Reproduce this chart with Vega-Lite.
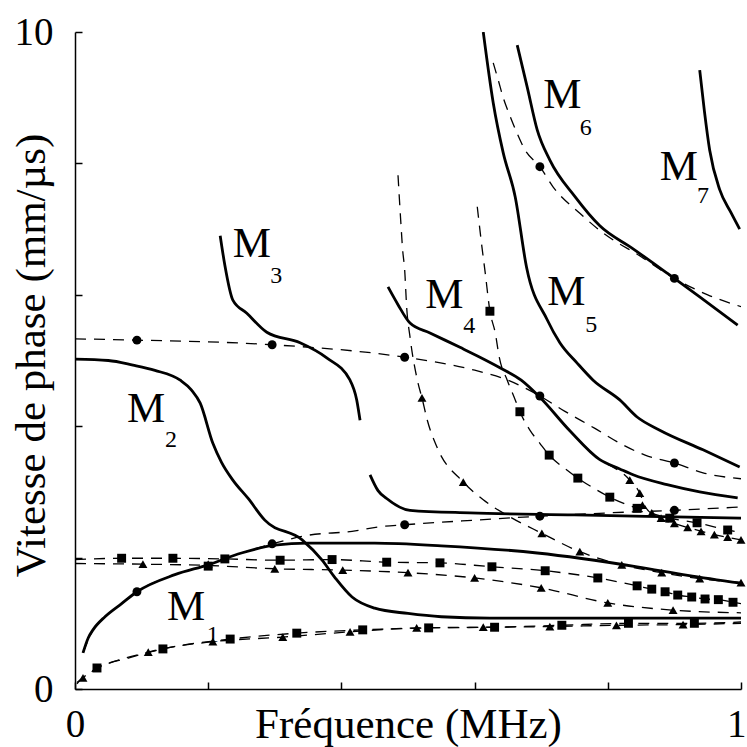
{
  "$schema": "https://vega.github.io/schema/vega-lite/v6.json",
  "width": 666,
  "height": 657,
  "autosize": {"type": "none"},
  "padding": {"left": 75, "top": 32, "right": 6, "bottom": 58},
  "background": "white",
  "config": {
    "view": {"stroke": null},
    "axis": {
      "grid": false,
      "domainColor": "black",
      "domainWidth": 1.5,
      "tickColor": "black",
      "tickWidth": 1.5,
      "labelColor": "black",
      "titleColor": "black",
      "labelFont": "Liberation Serif",
      "titleFont": "Liberation Serif",
      "labelFontSize": 39,
      "titleFontSize": 43,
      "titleFontWeight": "normal",
      "labelFlush": false,
      "labelOverlap": false
    }
  },
  "datasets": {
    "solid": [
      {"s":"M1","x":0.012,"y":0.55},{"s":"M1","x":0.02,"y":0.78},{"s":"M1","x":0.027,"y":0.9},{"s":"M1","x":0.045,"y":1.1},{"s":"M1","x":0.07,"y":1.3},{"s":"M1","x":0.093,"y":1.48},{"s":"M1","x":0.15,"y":1.74},{"s":"M1","x":0.2,"y":1.89},{"s":"M1","x":0.25,"y":2.07},{"s":"M1","x":0.3,"y":2.19},{"s":"M1","x":0.35,"y":2.22},{"s":"M1","x":0.45,"y":2.22},{"s":"M1","x":0.55,"y":2.18},{"s":"M1","x":0.694,"y":2.07},{"s":"M1","x":0.844,"y":1.86},{"s":"M1","x":0.92,"y":1.73},{"s":"M1","x":1.0,"y":1.61},
      {"s":"M2","x":0.0,"y":5.02},{"s":"M2","x":0.05,"y":5.0},{"s":"M2","x":0.087,"y":4.93},{"s":"M2","x":0.12,"y":4.85},{"s":"M2","x":0.158,"y":4.7},{"s":"M2","x":0.175,"y":4.55},{"s":"M2","x":0.188,"y":4.35},{"s":"M2","x":0.207,"y":3.74},{"s":"M2","x":0.22,"y":3.45},{"s":"M2","x":0.237,"y":3.18},{"s":"M2","x":0.26,"y":2.9},{"s":"M2","x":0.285,"y":2.57},{"s":"M2","x":0.341,"y":2.27},{"s":"M2","x":0.371,"y":1.96},{"s":"M2","x":0.39,"y":1.7},{"s":"M2","x":0.416,"y":1.4},{"s":"M2","x":0.45,"y":1.23},{"s":"M2","x":0.5,"y":1.15},{"s":"M2","x":0.55,"y":1.1},{"s":"M2","x":0.623,"y":1.08},{"s":"M2","x":1.0,"y":1.08},
      {"s":"M3","x":0.218,"y":6.9},{"s":"M3","x":0.225,"y":6.45},{"s":"M3","x":0.237,"y":5.92},{"s":"M3","x":0.258,"y":5.72},{"s":"M3","x":0.288,"y":5.43},{"s":"M3","x":0.338,"y":5.27},{"s":"M3","x":0.378,"y":5.04},{"s":"M3","x":0.413,"y":4.7},{"s":"M3","x":0.423,"y":4.4},{"s":"M3","x":0.428,"y":4.09},
      {"s":"M3b","x":0.443,"y":3.26},{"s":"M3b","x":0.455,"y":3.02},{"s":"M3b","x":0.468,"y":2.9},{"s":"M3b","x":0.503,"y":2.72},{"s":"M3b","x":0.593,"y":2.68},{"s":"M3b","x":0.75,"y":2.65},{"s":"M3b","x":0.9,"y":2.62},{"s":"M3b","x":1.0,"y":2.6},
      {"s":"M4","x":0.47,"y":6.12},{"s":"M4","x":0.485,"y":5.85},{"s":"M4","x":0.503,"y":5.57},{"s":"M4","x":0.533,"y":5.42},{"s":"M4","x":0.578,"y":5.2},{"s":"M4","x":0.608,"y":5.05},{"s":"M4","x":0.638,"y":4.89},{"s":"M4","x":0.67,"y":4.7},{"s":"M4","x":0.698,"y":4.44},{"s":"M4","x":0.743,"y":3.93},{"s":"M4","x":0.788,"y":3.49},{"s":"M4","x":0.818,"y":3.35},{"s":"M4","x":0.838,"y":3.26},{"s":"M4","x":0.889,"y":3.11},{"s":"M4","x":0.938,"y":3.0},{"s":"M4","x":0.995,"y":2.91},
      {"s":"M5","x":0.613,"y":10.0},{"s":"M5","x":0.628,"y":8.92},{"s":"M5","x":0.643,"y":8.16},{"s":"M5","x":0.661,"y":7.49},{"s":"M5","x":0.678,"y":6.42},{"s":"M5","x":0.709,"y":5.62},{"s":"M5","x":0.728,"y":5.27},{"s":"M5","x":0.754,"y":4.96},{"s":"M5","x":0.778,"y":4.7},{"s":"M5","x":0.818,"y":4.4},{"s":"M5","x":0.844,"y":4.14},{"s":"M5","x":0.878,"y":3.94},{"s":"M5","x":0.943,"y":3.64},{"s":"M5","x":0.998,"y":3.38},
      {"s":"M6","x":0.664,"y":9.8},{"s":"M6","x":0.679,"y":9.16},{"s":"M6","x":0.694,"y":8.51},{"s":"M6","x":0.713,"y":8.05},{"s":"M6","x":0.751,"y":7.49},{"s":"M6","x":0.788,"y":7.05},{"s":"M6","x":0.838,"y":6.7},{"s":"M6","x":0.889,"y":6.33},{"s":"M6","x":0.938,"y":5.97},{"s":"M6","x":0.995,"y":5.54},
      {"s":"M7","x":0.938,"y":9.42},{"s":"M7","x":0.945,"y":8.8},{"s":"M7","x":0.953,"y":8.2},{"s":"M7","x":0.968,"y":7.6},{"s":"M7","x":0.985,"y":7.25},{"s":"M7","x":0.998,"y":7.0}
    ],
    "dashed": [
      {"s":"C1","x":0.0,"y":5.33},{"s":"C1","x":0.093,"y":5.31},{"s":"C1","x":0.296,"y":5.24},{"s":"C1","x":0.495,"y":5.05},{"s":"C1","x":0.593,"y":4.87},{"s":"C1","x":0.65,"y":4.7},{"s":"C1","x":0.698,"y":4.46},{"s":"C1","x":0.735,"y":4.23},{"s":"C1","x":0.78,"y":3.97},{"s":"C1","x":0.82,"y":3.73},{"s":"C1","x":0.856,"y":3.56},{"s":"C1","x":0.9,"y":3.44},{"s":"C1","x":0.943,"y":3.29},{"s":"C1","x":1.0,"y":3.2},
      {"s":"C2","x":0.012,"y":0.55},{"s":"C2","x":0.027,"y":0.9},{"s":"C2","x":0.045,"y":1.1},{"s":"C2","x":0.07,"y":1.3},{"s":"C2","x":0.093,"y":1.48},{"s":"C2","x":0.15,"y":1.74},{"s":"C2","x":0.2,"y":1.89},{"s":"C2","x":0.25,"y":2.07},{"s":"C2","x":0.296,"y":2.21},{"s":"C2","x":0.35,"y":2.34},{"s":"C2","x":0.416,"y":2.4},{"s":"C2","x":0.458,"y":2.47},{"s":"C2","x":0.495,"y":2.5},{"s":"C2","x":0.6,"y":2.57},{"s":"C2","x":0.698,"y":2.63},{"s":"C2","x":0.8,"y":2.68},{"s":"C2","x":0.9,"y":2.72},{"s":"C2","x":1.0,"y":2.77},
      {"s":"C3","x":0.628,"y":9.53},{"s":"C3","x":0.636,"y":9.25},{"s":"C3","x":0.643,"y":9.0},{"s":"C3","x":0.652,"y":8.75},{"s":"C3","x":0.662,"y":8.5},{"s":"C3","x":0.676,"y":8.2},{"s":"C3","x":0.698,"y":7.95},{"s":"C3","x":0.718,"y":7.64},{"s":"C3","x":0.758,"y":7.24},{"s":"C3","x":0.793,"y":6.94},{"s":"C3","x":0.85,"y":6.58},{"s":"C3","x":0.9,"y":6.25},{"s":"C3","x":0.95,"y":6.0},{"s":"C3","x":1.0,"y":5.82},
      {"s":"TA","x":0.485,"y":7.82},{"s":"TA","x":0.489,"y":7.14},{"s":"TA","x":0.492,"y":6.68},{"s":"TA","x":0.495,"y":6.38},{"s":"TA","x":0.498,"y":5.81},{"s":"TA","x":0.503,"y":5.36},{"s":"TA","x":0.515,"y":4.66},{"s":"TA","x":0.521,"y":4.43},{"s":"TA","x":0.529,"y":4.09},{"s":"TA","x":0.544,"y":3.67},{"s":"TA","x":0.583,"y":3.15},{"s":"TA","x":0.613,"y":2.88},{"s":"TA","x":0.653,"y":2.62},{"s":"TA","x":0.701,"y":2.37},{"s":"TA","x":0.758,"y":2.09},{"s":"TA","x":0.821,"y":1.89},{"s":"TA","x":0.881,"y":1.77},{"s":"TA","x":0.938,"y":1.68},{"s":"TA","x":1.0,"y":1.62},
      {"s":"SB","x":0.604,"y":7.34},{"s":"SB","x":0.611,"y":6.73},{"s":"SB","x":0.616,"y":6.33},{"s":"SB","x":0.623,"y":5.75},{"s":"SB","x":0.631,"y":5.42},{"s":"SB","x":0.637,"y":5.05},{"s":"SB","x":0.649,"y":4.7},{"s":"SB","x":0.661,"y":4.4},{"s":"SB","x":0.668,"y":4.22},{"s":"SB","x":0.683,"y":3.94},{"s":"SB","x":0.698,"y":3.74},{"s":"SB","x":0.712,"y":3.56},{"s":"SB","x":0.739,"y":3.33},{"s":"SB","x":0.755,"y":3.21},{"s":"SB","x":0.78,"y":3.05},{"s":"SB","x":0.803,"y":2.92},{"s":"SB","x":0.844,"y":2.75},{"s":"SB","x":0.893,"y":2.6},{"s":"SB","x":0.934,"y":2.53},{"s":"SB","x":0.98,"y":2.42},{"s":"SB","x":1.0,"y":2.38},
      {"s":"TC","x":0.8,"y":3.42},{"s":"TC","x":0.833,"y":3.18},{"s":"TC","x":0.848,"y":2.98},{"s":"TC","x":0.856,"y":2.78},{"s":"TC","x":0.87,"y":2.64},{"s":"TC","x":0.9,"y":2.52},{"s":"TC","x":0.93,"y":2.43},{"s":"TC","x":0.96,"y":2.35},{"s":"TC","x":1.0,"y":2.27},
      {"s":"SH","x":0.0,"y":1.97},{"s":"SH","x":0.07,"y":1.99},{"s":"SH","x":0.147,"y":1.99},{"s":"SH","x":0.225,"y":1.98},{"s":"SH","x":0.308,"y":1.96},{"s":"SH","x":0.386,"y":1.97},{"s":"SH","x":0.468,"y":1.93},{"s":"SH","x":0.548,"y":1.92},{"s":"SH","x":0.626,"y":1.86},{"s":"SH","x":0.706,"y":1.8},{"s":"SH","x":0.785,"y":1.69},{"s":"SH","x":0.844,"y":1.57},{"s":"SH","x":0.866,"y":1.52},{"s":"SH","x":0.886,"y":1.48},{"s":"SH","x":0.905,"y":1.43},{"s":"SH","x":0.926,"y":1.4},{"s":"SH","x":0.946,"y":1.37},{"s":"SH","x":0.966,"y":1.36},{"s":"SH","x":0.988,"y":1.32},{"s":"SH","x":1.0,"y":1.3},
      {"s":"TH","x":0.0,"y":1.91},{"s":"TH","x":0.102,"y":1.9},{"s":"TH","x":0.2,"y":1.88},{"s":"TH","x":0.3,"y":1.83},{"s":"TH","x":0.402,"y":1.81},{"s":"TH","x":0.5,"y":1.77},{"s":"TH","x":0.6,"y":1.69},{"s":"TH","x":0.7,"y":1.54},{"s":"TH","x":0.8,"y":1.31},{"s":"TH","x":0.898,"y":1.2},{"s":"TH","x":1.0,"y":1.16},
      {"s":"SL","x":0.003,"y":0.1},{"s":"SL","x":0.033,"y":0.32},{"s":"SL","x":0.08,"y":0.47},{"s":"SL","x":0.132,"y":0.61},{"s":"SL","x":0.233,"y":0.76},{"s":"SL","x":0.333,"y":0.85},{"s":"SL","x":0.432,"y":0.9},{"s":"SL","x":0.531,"y":0.93},{"s":"SL","x":0.63,"y":0.94},{"s":"SL","x":0.731,"y":0.97},{"s":"SL","x":0.831,"y":1.0},{"s":"SL","x":0.93,"y":1.0},{"s":"SL","x":1.0,"y":1.02},
      {"s":"TL","x":0.003,"y":0.08},{"s":"TL","x":0.012,"y":0.17},{"s":"TL","x":0.11,"y":0.56},{"s":"TL","x":0.207,"y":0.72},{"s":"TL","x":0.312,"y":0.79},{"s":"TL","x":0.413,"y":0.87},{"s":"TL","x":0.513,"y":0.93},{"s":"TL","x":0.613,"y":0.94},{"s":"TL","x":0.713,"y":0.95},{"s":"TL","x":0.813,"y":0.97},{"s":"TL","x":0.913,"y":0.98},{"s":"TL","x":1.0,"y":1.0}
    ],
    "markers": [
      {"m":"circle","x":0.093,"y":5.31},{"m":"circle","x":0.296,"y":5.24},{"m":"circle","x":0.495,"y":5.05},{"m":"circle","x":0.698,"y":4.46},{"m":"circle","x":0.9,"y":3.44},
      {"m":"circle","x":0.093,"y":1.48},{"m":"circle","x":0.296,"y":2.21},{"m":"circle","x":0.495,"y":2.5},{"m":"circle","x":0.698,"y":2.63},{"m":"circle","x":0.9,"y":2.72},
      {"m":"circle","x":0.698,"y":7.95},{"m":"circle","x":0.9,"y":6.25},
      {"m":"square","x":0.623,"y":5.75},{"m":"square","x":0.668,"y":4.22},{"m":"square","x":0.712,"y":3.56},{"m":"square","x":0.755,"y":3.21},{"m":"square","x":0.803,"y":2.92},{"m":"square","x":0.844,"y":2.75},{"m":"square","x":0.893,"y":2.6},{"m":"square","x":0.934,"y":2.53},{"m":"square","x":0.98,"y":2.42},
      {"m":"square","x":0.07,"y":1.99},{"m":"square","x":0.147,"y":1.99},{"m":"square","x":0.2,"y":1.87},{"m":"square","x":0.225,"y":1.98},{"m":"square","x":0.308,"y":1.96},{"m":"square","x":0.386,"y":1.97},{"m":"square","x":0.468,"y":1.93},{"m":"square","x":0.548,"y":1.92},{"m":"square","x":0.626,"y":1.86},{"m":"square","x":0.706,"y":1.8},{"m":"square","x":0.785,"y":1.69},{"m":"square","x":0.844,"y":1.57},{"m":"square","x":0.866,"y":1.52},{"m":"square","x":0.886,"y":1.48},{"m":"square","x":0.905,"y":1.43},{"m":"square","x":0.926,"y":1.4},{"m":"square","x":0.946,"y":1.37},{"m":"square","x":0.966,"y":1.36},{"m":"square","x":0.988,"y":1.32},
      {"m":"square","x":0.033,"y":0.32},{"m":"square","x":0.132,"y":0.61},{"m":"square","x":0.233,"y":0.76},{"m":"square","x":0.333,"y":0.85},{"m":"square","x":0.432,"y":0.9},{"m":"square","x":0.531,"y":0.93},{"m":"square","x":0.63,"y":0.94},{"m":"square","x":0.731,"y":0.97},{"m":"square","x":0.831,"y":1.0},{"m":"square","x":0.93,"y":1.0},
      {"m":"triangle","x":0.521,"y":4.43},{"m":"triangle","x":0.583,"y":3.15},{"m":"triangle","x":0.701,"y":2.37},{"m":"triangle","x":0.758,"y":2.09},{"m":"triangle","x":0.821,"y":1.89},{"m":"triangle","x":0.881,"y":1.77},{"m":"triangle","x":0.938,"y":1.68},{"m":"triangle","x":1.0,"y":1.62},
      {"m":"triangle","x":0.833,"y":3.18},{"m":"triangle","x":0.848,"y":2.98},{"m":"triangle","x":0.852,"y":2.8},{"m":"triangle","x":0.866,"y":2.68},{"m":"triangle","x":0.88,"y":2.6},{"m":"triangle","x":0.9,"y":2.52},{"m":"triangle","x":0.92,"y":2.46},{"m":"triangle","x":0.94,"y":2.4},{"m":"triangle","x":0.96,"y":2.35},{"m":"triangle","x":0.98,"y":2.31},{"m":"triangle","x":1.0,"y":2.27},
      {"m":"triangle","x":0.102,"y":1.9},{"m":"triangle","x":0.2,"y":1.9},{"m":"triangle","x":0.3,"y":1.83},{"m":"triangle","x":0.402,"y":1.81},{"m":"triangle","x":0.5,"y":1.77},{"m":"triangle","x":0.6,"y":1.69},{"m":"triangle","x":0.7,"y":1.54},{"m":"triangle","x":0.8,"y":1.31},{"m":"triangle","x":0.898,"y":1.2},
      {"m":"triangle","x":0.012,"y":0.17},{"m":"triangle","x":0.11,"y":0.56},{"m":"triangle","x":0.207,"y":0.72},{"m":"triangle","x":0.312,"y":0.79},{"m":"triangle","x":0.413,"y":0.87},{"m":"triangle","x":0.513,"y":0.93},{"m":"triangle","x":0.613,"y":0.94},{"m":"triangle","x":0.713,"y":0.95},{"m":"triangle","x":0.813,"y":0.97},{"m":"triangle","x":0.913,"y":0.98}
    ],
    "mlabels": [
      {"t":"M","x":0.138,"y":1.05},{"t":"M","x":0.078,"y":4.06},{"t":"M","x":0.237,"y":6.58},{"t":"M","x":0.526,"y":5.8},{"t":"M","x":0.709,"y":5.84},{"t":"M","x":0.703,"y":8.84},{"t":"M","x":0.878,"y":7.75}
    ],
    "subs": [
      {"t":"1","x":0.198,"y":0.715},{"t":"2","x":0.135,"y":3.68},{"t":"3","x":0.293,"y":6.18},{"t":"4","x":0.583,"y":5.42},{"t":"5","x":0.766,"y":5.43},{"t":"6","x":0.758,"y":8.43},{"t":"7","x":0.934,"y":7.4}
    ]
  },
  "encoding": {
    "x": {
      "field": "x", "type": "quantitative",
      "scale": {"domain": [0, 1], "nice": false, "zero": false},
      "axis": {
        "title": "Fréquence (MHz)",
        "values": [0, 0.2, 0.4, 0.6, 0.8, 1],
        "labelExpr": "datum.value == 0 ? '0' : (datum.value == 1 ? '1' : '')",
        "labelAlign": {"condition": {"test": "datum.value == 1", "value": "right"}, "value": "center"},
        "labelOffset": {"condition": {"test": "datum.value == 1", "value": 5}, "value": 0},
        "tickSize": -7,
        "labelPadding": 23,
        "titleBaseline": "alphabetic",
        "titleY": 48,
        "titleX": 333
      }
    },
    "y": {
      "field": "y", "type": "quantitative",
      "scale": {"domain": [0, 10], "nice": false, "zero": false},
      "axis": {
        "title": "Vitesse de phase (mm/µs)",
        "values": [0, 2, 4, 6, 8, 10],
        "labelExpr": "datum.value == 0 ? '0' : (datum.value == 10 ? '10' : '')",
        "tickSize": -7,
        "labelPadding": 29,
        "titleAngle": -90,
        "titleBaseline": "alphabetic",
        "titleAlign": "center",
        "titleX": -31,
        "titleY": 323
      }
    }
  },
  "layer": [
    {
      "data": {"name": "dashed"},
      "mark": {"type": "line", "color": "black", "strokeWidth": 1.3, "strokeDash": [11, 8], "interpolate": "monotone", "clip": true},
      "encoding": {"detail": {"field": "s", "type": "nominal"}}
    },
    {
      "data": {"name": "solid"},
      "mark": {"type": "line", "color": "black", "strokeWidth": 2.8, "interpolate": "monotone", "clip": true},
      "encoding": {"detail": {"field": "s", "type": "nominal"}}
    },
    {
      "data": {"name": "markers"},
      "mark": {"type": "point", "filled": true, "color": "black", "opacity": 1, "size": 80},
      "encoding": {
        "shape": {
          "field": "m", "type": "nominal",
          "scale": {"domain": ["circle", "square", "triangle"], "range": ["circle", "square", "triangle-up"]},
          "legend": null
        }
      }
    },
    {
      "data": {"name": "mlabels"},
      "mark": {"type": "text", "font": "Liberation Serif", "fontSize": 43, "align": "left", "baseline": "alphabetic", "color": "black"},
      "encoding": {"text": {"field": "t"}}
    },
    {
      "data": {"name": "subs"},
      "mark": {"type": "text", "font": "Liberation Serif", "fontSize": 24, "align": "left", "baseline": "alphabetic", "color": "black"},
      "encoding": {"text": {"field": "t"}}
    }
  ]
}
